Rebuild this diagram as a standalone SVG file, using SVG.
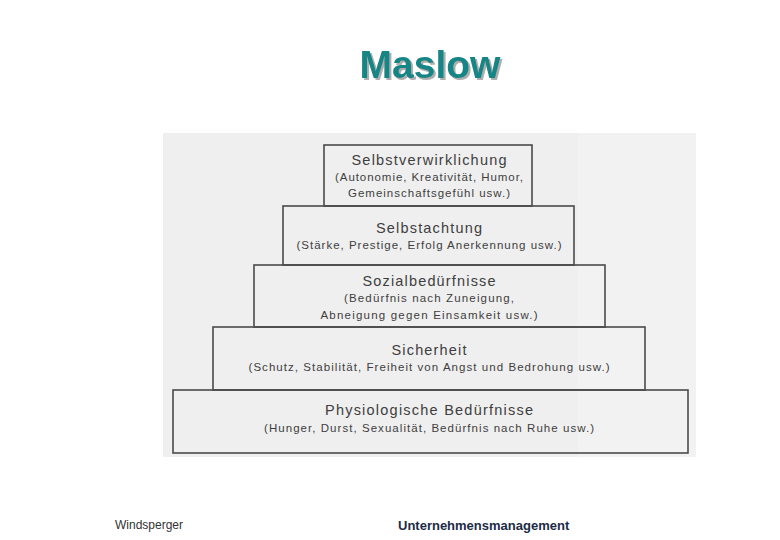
<svg xmlns="http://www.w3.org/2000/svg" width="780" height="540" viewBox="0 0 780 540">
<defs>
<filter id="shadow" x="-10%" y="-20%" width="120%" height="150%">
<feDropShadow dx="2" dy="2" stdDeviation="0.6" flood-color="#9a9a9a" flood-opacity="0.8"/>
</filter>
</defs>
<style>
.box{fill:none;stroke:#4a4a4a;stroke-width:1.6}
.t{font-family:"Liberation Sans",Arial,sans-serif;fill:#3e3e3e;text-anchor:middle;font-size:14.5px}
.s{font-family:"Liberation Sans",Arial,sans-serif;fill:#3e3e3e;text-anchor:middle;font-size:11.5px}
</style>
<rect width="780" height="540" fill="#ffffff"/>
<g id="title">
<text x="430" y="78" font-family="Liberation Sans,Arial,sans-serif" font-weight="bold" font-size="39" fill="#128585" text-anchor="middle" filter="url(#shadow)">Maslow</text>
</g>
<g id="background">
<rect x="163" y="133" width="533" height="324" fill="#efefef"/>
<rect x="578" y="133" width="118" height="324" fill="#f2f2f2"/>
</g>
<g id="selbstverwirklichung">
<rect class="box" x="324" y="145" width="208" height="61"/>
<text class="t" x="429" y="165" textLength="155" lengthAdjust="spacing">Selbstverwirklichung</text>
<text class="s" x="429" y="181" textLength="188" lengthAdjust="spacing">(Autonomie, Kreativität, Humor,</text>
<text class="s" x="429" y="197" textLength="162" lengthAdjust="spacing">Gemeinschaftsgefühl usw.)</text>
</g>
<g id="selbstachtung">
<rect class="box" x="283" y="206" width="291" height="59"/>
<text class="t" x="429" y="233" textLength="106" lengthAdjust="spacing">Selbstachtung</text>
<text class="s" x="429" y="249" textLength="265" lengthAdjust="spacing">(Stärke, Prestige, Erfolg Anerkennung usw.)</text>
</g>
<g id="sozialbeduerfnisse">
<rect class="box" x="254" y="265" width="351" height="62"/>
<text class="t" x="429" y="286" textLength="133" lengthAdjust="spacing">Sozialbedürfnisse</text>
<text class="s" x="429" y="302" textLength="170" lengthAdjust="spacing">(Bedürfnis nach Zuneigung,</text>
<text class="s" x="429" y="319" textLength="217" lengthAdjust="spacing">Abneigung gegen Einsamkeit usw.)</text>
</g>
<g id="sicherheit">
<rect class="box" x="213" y="327" width="432" height="63"/>
<text class="t" x="429" y="355" textLength="75" lengthAdjust="spacing">Sicherheit</text>
<text class="s" x="429" y="371" textLength="361" lengthAdjust="spacing">(Schutz, Stabilität, Freiheit von Angst und Bedrohung usw.)</text>
</g>
<g id="physiologische">
<rect class="box" x="173" y="390" width="515" height="63"/>
<text class="t" x="429" y="415" textLength="208" lengthAdjust="spacing">Physiologische Bedürfnisse</text>
<text class="s" x="429" y="432" textLength="330" lengthAdjust="spacing">(Hunger, Durst, Sexualität, Bedürfnis nach Ruhe usw.)</text>
</g>
<g id="connectors"/>
<g id="footer">
<text x="115" y="529" font-family="Liberation Sans,Arial,sans-serif" font-size="12" fill="#333333">Windsperger</text>
<text x="398" y="530" font-family="Liberation Sans,Arial,sans-serif" font-size="13" font-weight="bold" fill="#1c2b45">Unternehmensmanagement</text>
</g>
</svg>
